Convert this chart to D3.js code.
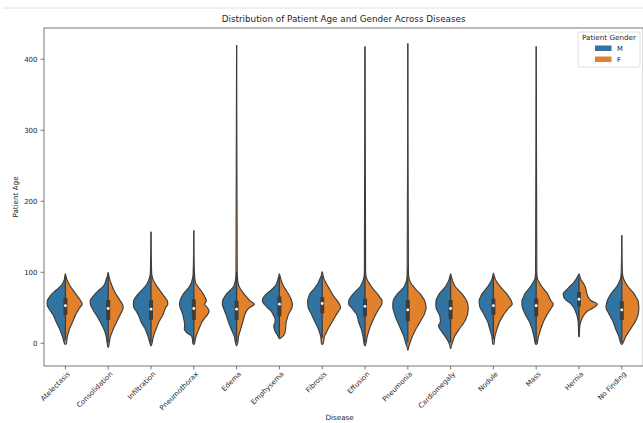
<!DOCTYPE html>
<html><head><meta charset="utf-8">
<script src="https://cdn.jsdelivr.net/npm/d3@7/dist/d3.min.js"></script>
<style>
body{margin:0;background:#fff;}
text{font-family:"DejaVu Sans",sans-serif;fill:#262626;}
</style>
</head><body>
<svg id="chart" width="643" height="423"></svg>
<script>
const categories = ["Atelectasis","Consolidation","Infiltration","Pneumothorax","Edema","Emphysema","Fibrosis","Effusion","Pneumonia","Cardiomegaly","Nodule","Mass","Hernia","No Finding"];
const genders = ["M","F"];
const genderColors = ["#3274a1","#e1812c"];
const yTicks = [0,100,200,300,400];

// ages at which the density of each half was read
const ageGrid = [-10,-5,0,5,10,15,20,25,30,35,40,45,50,55,60,65,70,75,80,85,90,95,100];

// estimated (relative) density of male patients' age per disease
const densityM = [
 [0,0,1,2,3,4.3,5.7,7.3,9,10.5,12,14.5,16.7,18,17.7,15.7,13,9,5,2.5,1,0.5,0],
 [0,0.3,1,1.5,2,3,4.3,6,7.7,9.7,11.7,14,16,17.5,17.7,15.5,12.7,9,5,3,2,0.8,0],
 [0,0.3,1,2,3,4.3,5.7,7.7,9.7,11,12.5,14.5,16.7,17.3,17,15,12.3,9,5.7,3.5,2,1,0.6],
 [0,0.3,1,1.3,2,7,9.3,9,9.3,10,10.7,12,13.3,14,13.5,12,10,7,4.3,2.5,1.5,0.8,0.6],
 [0,0.3,1,1.6,2.3,3.8,5.3,6.7,8,9.2,10.3,11.7,13,14,13.7,12,9.7,6,3,1.8,1,0.7,0.6],
 [0,0,0,0.3,1.3,3.5,5,5.5,4.2,4.3,6,8,11.5,15,16.7,15.5,12.5,8,4.5,2.5,1.5,0.6,0],
 [0,0.2,0.8,1.1,1.5,2.6,3.7,5.3,7,8.7,10.3,12,13.7,14.2,14.3,13.3,12,9,6.3,4,2.5,1,0.2],
 [0,0.3,1,1.5,2,2.8,3.7,5,6.3,7,8,10.5,13,16,16,14,11.3,8,4.7,2.8,1.5,0.8,0.6],
 [0,0.8,2,3,4,5.5,7,8.5,10,11.5,12.7,13.8,14.7,14.7,14.3,12.5,10,6.5,3.5,2,1,0.7,0.6],
 [0,0.5,1.5,3.3,5.5,8,10.5,12,10,10.2,11,12.8,14.3,14.5,14.3,13,11,8,5,3,1.5,0.6,0],
 [0,0.2,0.7,1.1,1.5,2.5,3.5,4.5,5.5,7.2,9,11,13,13.8,14,12.8,11,8.2,5.5,3.3,1.5,0.6,0],
 [0,0.3,1,1.6,2.3,3.1,4,5.2,6.5,8.5,10.5,12,13.5,14,14,12.5,11,8.2,5.5,3.3,1.5,0.8,0.6],
 [0,0,0,0,0.3,0.4,0.5,0.6,0.8,1.3,2.2,3.5,5,7.5,12,15,15.5,12.5,9,5.5,3,1,0],
 [0,0.3,1,2,3,4.5,6,7.2,8.5,10.2,12,14,15.5,15.2,14.3,12.5,10.5,7.7,5,3,1.5,0.8,0.6]
];
// estimated (relative) density of female patients' age per disease
const densityF = [
 [0,0,1,1.5,2,3,4,5.5,7,8.5,10,12,14,16.5,15,12.5,10,7.5,5,3,1.5,0.5,0],
 [0,0.3,1,1.6,2.3,3.6,5,6.6,8.3,10,11.7,13.5,14.7,14,11.7,9.5,7.3,5.5,4,2.7,1.5,0.7,0],
 [0,0.3,1,1.7,2.5,3.7,5,6.3,7.7,9.7,11.7,13,14.3,16.5,16,13.5,11,8.5,6,3.8,2,1,0.6],
 [0,0.3,0.8,1.4,2.3,3.5,5,6.5,8,10.5,13.3,15,13.5,10.7,12.3,11,9,6.7,4,1.7,1.2,0.8,0.6],
 [0,0.3,1,1.5,2,3,4,5,6,7,8,9.5,12.5,17.5,13,10,7,4.5,2.5,1.5,1,0.7,0.6],
 [0,0,0,0.8,3.5,5.5,6,6.3,6.7,7.7,8.7,10.5,12.3,12.7,12,10.5,8.7,6.5,4.3,2.7,1.5,0.6,0],
 [0,0.2,1,1.6,2.3,4,5.7,7.7,9.7,11.7,13.7,16,18,17,14.7,12,9.7,7.7,5.7,3.7,2,1,0.2],
 [0,0.3,1,1.6,2.3,3.3,4.3,5.6,7,8.6,10.3,12.3,14.3,16.5,16.7,14.5,12,9,6.3,4,2,1,0.6],
 [0,0.9,2,3.2,4.5,6.2,8,10,12,14,16,17.2,18,17.5,16.5,14.5,12,8.5,5.5,3,1.5,0.8,0.6],
 [0,0.5,1.5,2.7,4,6.2,8.5,11,13.5,15.2,16.5,17.1,17.3,16.8,15.7,13.5,11,7.7,4.5,2.7,1.5,0.6,0],
 [0,0.2,0.7,1.1,1.5,2.5,3.5,4.7,6,8,10,12.5,15,18.5,17.5,15.3,13,9.8,6.5,4,2,0.8,0],
 [0,0.3,1,1.6,2.3,3.4,4.5,5.7,7,8.7,10.5,12.7,15,16.7,14.5,12.7,11,8.2,5.5,3.3,1.5,0.8,0.6],
 [0,0,0,0,0.3,0.4,0.6,0.9,1.7,3,5,8,14,18,12,9,7.8,7,6,4,1.8,0.8,0],
 [0,0.3,1,2.5,4,6.2,8.5,10.8,13,14.7,16,16.5,16.7,16.5,16,14,12,9,6,3.8,2,1,0.6]
];
// ends of each violin (age), including the thin tails of outliers
const bottomTip = [-2,-6,-4,-2,-4,6,-2,-4,-10,-8,-2,-2,9,-2];
const topTip    = [98,100,157,159,420,98,101,418,422,98,99,418,98,152];
// box plot summary (age)
const q1      = [40,33,33,33,33,38,42,38,31,34,40,38,52,33];
const medians = [53,49,48,49,48,55,56,52,47,49,53,53,62,47];
const q3      = [64,61,61,62,60,66,65,63,61,61,63,63,72,59];
const ageMin  = [1,1,1,1,1,8,1,1,1,1,1,1,15,1];
const ageMax  = [95,95,155,155,414,94,95,412,414,94,95,412,93,150];

const svg = d3.select("#chart");
const W = 643, H = 423;
const mLeft = 44, mRight = 643.2, mTop = 28, mBottom = 366;

const x = d3.scaleBand().domain(categories).range([mLeft, mRight]).paddingInner(0).paddingOuter(0);
const y = d3.scaleLinear().domain([-32, 444]).range([mBottom, mTop]);
const maxD = d3.max(densityM.concat(densityF), r => d3.max(r));
const w = d3.scaleLinear().domain([0, maxD]).range([0, x.step() * 0.44]);
const outline = "#3d3d3d";

// notebook separator line
svg.append("line").attr("x1", 3).attr("x2", W).attr("y1", 8).attr("y2", 8)
  .attr("stroke", "#e0e0e0").attr("stroke-width", 1);

// title
svg.append("text").attr("x", (mLeft + mRight) / 2).attr("y", 22)
  .attr("text-anchor", "middle").style("font-size", "8.8px")
  .text("Distribution of Patient Age and Gender Across Diseases");

const line = d3.line().x(d => d[0]).y(d => d[1]).curve(d3.curveMonotoneY);

categories.forEach((cat, i) => {
  const cx = x(cat) + x.step() / 2;
  [densityM[i], densityF[i]].forEach((dens, g) => {
    const sign = g === 0 ? -1 : 1;
    const pts = [[cx, y(bottomTip[i])]];
    ageGrid.forEach((a, k) => {
      if (a > bottomTip[i] && a < topTip[i]) pts.push([cx + sign * w(dens[k]), y(a)]);
    });
    pts.push([cx, y(topTip[i])]);
    svg.append("path").attr("d", line(pts) + "Z")
      .attr("fill", genderColors[g]).attr("stroke", "none");
    svg.append("path").attr("d", line(pts))
      .attr("fill", "none").attr("stroke", outline).attr("stroke-width", 1.15)
      .attr("stroke-linejoin", "round");
  });
  // inner box
  const iqr = q3[i] - q1[i];
  const lo = Math.max(ageMin[i], q1[i] - 1.5 * iqr);
  const hi = Math.min(ageMax[i], q3[i] + 1.5 * iqr);
  svg.append("line").attr("x1", cx).attr("x2", cx).attr("y1", y(lo)).attr("y2", y(hi))
    .attr("stroke", outline).attr("stroke-width", 1.3);
  svg.append("rect").attr("x", cx - 2).attr("width", 4)
    .attr("y", y(q3[i])).attr("height", y(q1[i]) - y(q3[i]))
    .attr("fill", outline);
  svg.append("circle").attr("cx", cx).attr("cy", y(medians[i])).attr("r", 1.4)
    .attr("fill", "#fff");
});

// spines
const spine = "#555";
svg.append("rect").attr("x", mLeft).attr("y", mTop).attr("width", mRight - mLeft).attr("height", mBottom - mTop)
  .attr("fill", "none").attr("stroke", spine).attr("stroke-width", 0.8);

// y axis
yTicks.forEach(t => {
  svg.append("line").attr("x1", mLeft - 3.5).attr("x2", mLeft).attr("y1", y(t)).attr("y2", y(t))
    .attr("stroke", spine).attr("stroke-width", 0.8);
  svg.append("text").attr("x", mLeft - 6.5).attr("y", y(t)).attr("dy", "0.35em")
    .attr("text-anchor", "end").style("font-size", "7px").text(t);
});
svg.append("text").attr("transform", `translate(15,${(mTop + mBottom) / 2}) rotate(-90)`)
  .attr("text-anchor", "middle").attr("dy", "0.35em").style("font-size", "7.2px").text("Patient Age");

// x axis
categories.forEach(cat => {
  const cx = x(cat) + x.step() / 2;
  svg.append("line").attr("x1", cx).attr("x2", cx).attr("y1", mBottom).attr("y2", mBottom + 3.5)
    .attr("stroke", spine).attr("stroke-width", 0.8);
  svg.append("text").attr("transform", `translate(${cx + 1.5},${mBottom + 5}) rotate(-45)`)
    .attr("text-anchor", "end").attr("dy", "0.7em").style("font-size", "7px").text(cat);
});
svg.append("text").attr("x", (mLeft + mRight) / 2 - 4).attr("y", 420)
  .attr("text-anchor", "middle").style("font-size", "7.2px").text("Disease");

// legend
const lg = svg.append("g").attr("transform", "translate(578,32)");
lg.append("rect").attr("width", 62).attr("height", 35).attr("rx", 2)
  .attr("fill", "#fff").attr("fill-opacity", 0.8).attr("stroke", "#d5d5d5").attr("stroke-width", 0.8);
lg.append("text").attr("x", 31).attr("y", 7.8).attr("text-anchor", "middle")
  .style("font-size", "7.2px").text("Patient Gender");
genders.forEach((gd, g) => {
  lg.append("rect").attr("x", 17).attr("y", 13.5 + g * 11).attr("width", 16.5).attr("height", 5.5)
    .attr("fill", genderColors[g]);
  lg.append("text").attr("x", 39).attr("y", 16.3 + g * 11).attr("dy", "0.35em")
    .style("font-size", "6.8px").text(gd);
});
</script>
</body></html>
